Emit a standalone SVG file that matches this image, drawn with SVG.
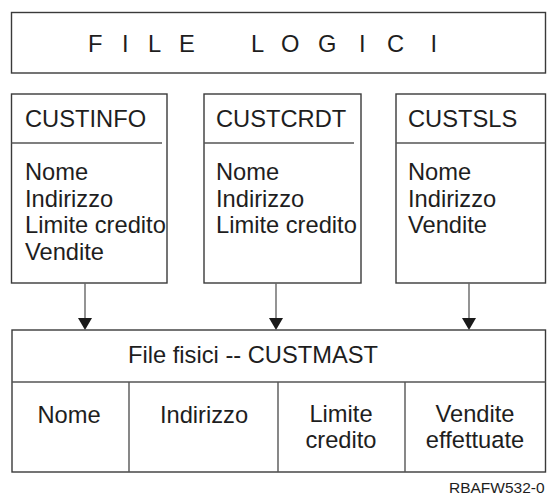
<svg xmlns="http://www.w3.org/2000/svg" width="547" height="497" viewBox="0 0 547 497">
  <defs>
    <style>
      .box { fill: #ffffff; stroke: #3a3a3a; stroke-width: 1.4; }
      .sep { stroke: #555555; stroke-width: 1.4; fill: none; }
      .shaft { stroke: #666666; stroke-width: 1.4; fill: none; }
      .head { fill: #1a1a1a; }
      .t { font-family: "Liberation Sans", Arial, Helvetica, sans-serif; font-size: 23.7px; fill: #1e1e1e; }
      .c { text-anchor: middle; }
      .id { font-family: "Liberation Sans", Arial, Helvetica, sans-serif; font-size: 15.5px; fill: #1e1e1e; }
    </style>
  </defs>

  <rect width="547" height="497" fill="#ffffff"/>

  <!-- banner -->
  <g id="file-logici">
    <rect class="box" x="11.5" y="12.5" width="534" height="60.5"/>
    <text class="t" y="52" x="88 124 122 150 148 181 179 182 251 283 281 320 318 361 359 389 387 424">F I L E   L O G I C I</text>
  </g>

  <!-- logical files -->
  <g id="custinfo">
    <rect class="box" x="11.5" y="94" width="155.5" height="189"/>
    <line class="sep" x1="11.5" y1="143" x2="162" y2="143"/>
    <text class="t" x="25" y="127">CUSTINFO</text>
    <text class="t" x="25" y="180">Nome</text>
    <text class="t" x="25" y="206.5">Indirizzo</text>
    <text class="t" x="25" y="233">Limite credito</text>
    <text class="t" x="25" y="259.5">Vendite</text>
  </g>

  <g id="custcrdt">
    <rect class="box" x="204" y="94" width="157" height="189"/>
    <line class="sep" x1="204" y1="143" x2="354" y2="143"/>
    <text class="t" x="216" y="127">CUSTCRDT</text>
    <text class="t" x="216" y="180">Nome</text>
    <text class="t" x="216" y="206.5">Indirizzo</text>
    <text class="t" x="216" y="233">Limite credito</text>
  </g>

  <g id="custsls">
    <rect class="box" x="396" y="94" width="149.5" height="189"/>
    <line class="sep" x1="396" y1="143" x2="545.5" y2="143"/>
    <text class="t" x="408" y="127">CUSTSLS</text>
    <text class="t" x="408" y="180">Nome</text>
    <text class="t" x="408" y="206.5">Indirizzo</text>
    <text class="t" x="408" y="233">Vendite</text>
  </g>

  <!-- connectors -->
  <g id="connectors">
    <line class="shaft" x1="85" y1="283" x2="85" y2="319"/>
    <polygon class="head" points="78,318 92,318 85,330"/>
    <line class="shaft" x1="276" y1="283" x2="276" y2="319"/>
    <polygon class="head" points="269,318 283,318 276,330"/>
    <line class="shaft" x1="469" y1="283" x2="469" y2="319"/>
    <polygon class="head" points="462,318 476,318 469,330"/>
  </g>

  <!-- physical file -->
  <g id="custmast">
    <rect class="box" x="12" y="330" width="533.5" height="142"/>
    <line class="sep" x1="12" y1="382" x2="545.5" y2="382"/>
    <line class="sep" x1="129" y1="382" x2="129" y2="472"/>
    <line class="sep" x1="278" y1="382" x2="278" y2="472"/>
    <line class="sep" x1="405" y1="382" x2="405" y2="472"/>
    <text class="t" x="128" y="363">File fisici -- CUSTMAST</text>
    <text class="t c" x="69" y="423">Nome</text>
    <text class="t c" x="204" y="423">Indirizzo</text>
    <text class="t c" x="341" y="422">Limite</text>
    <text class="t c" x="341" y="448">credito</text>
    <text class="t c" x="475" y="422">Vendite</text>
    <text class="t c" x="475" y="448">effettuate</text>
  </g>

  <text class="id" x="449" y="493">RBAFW532-0</text>
</svg>
